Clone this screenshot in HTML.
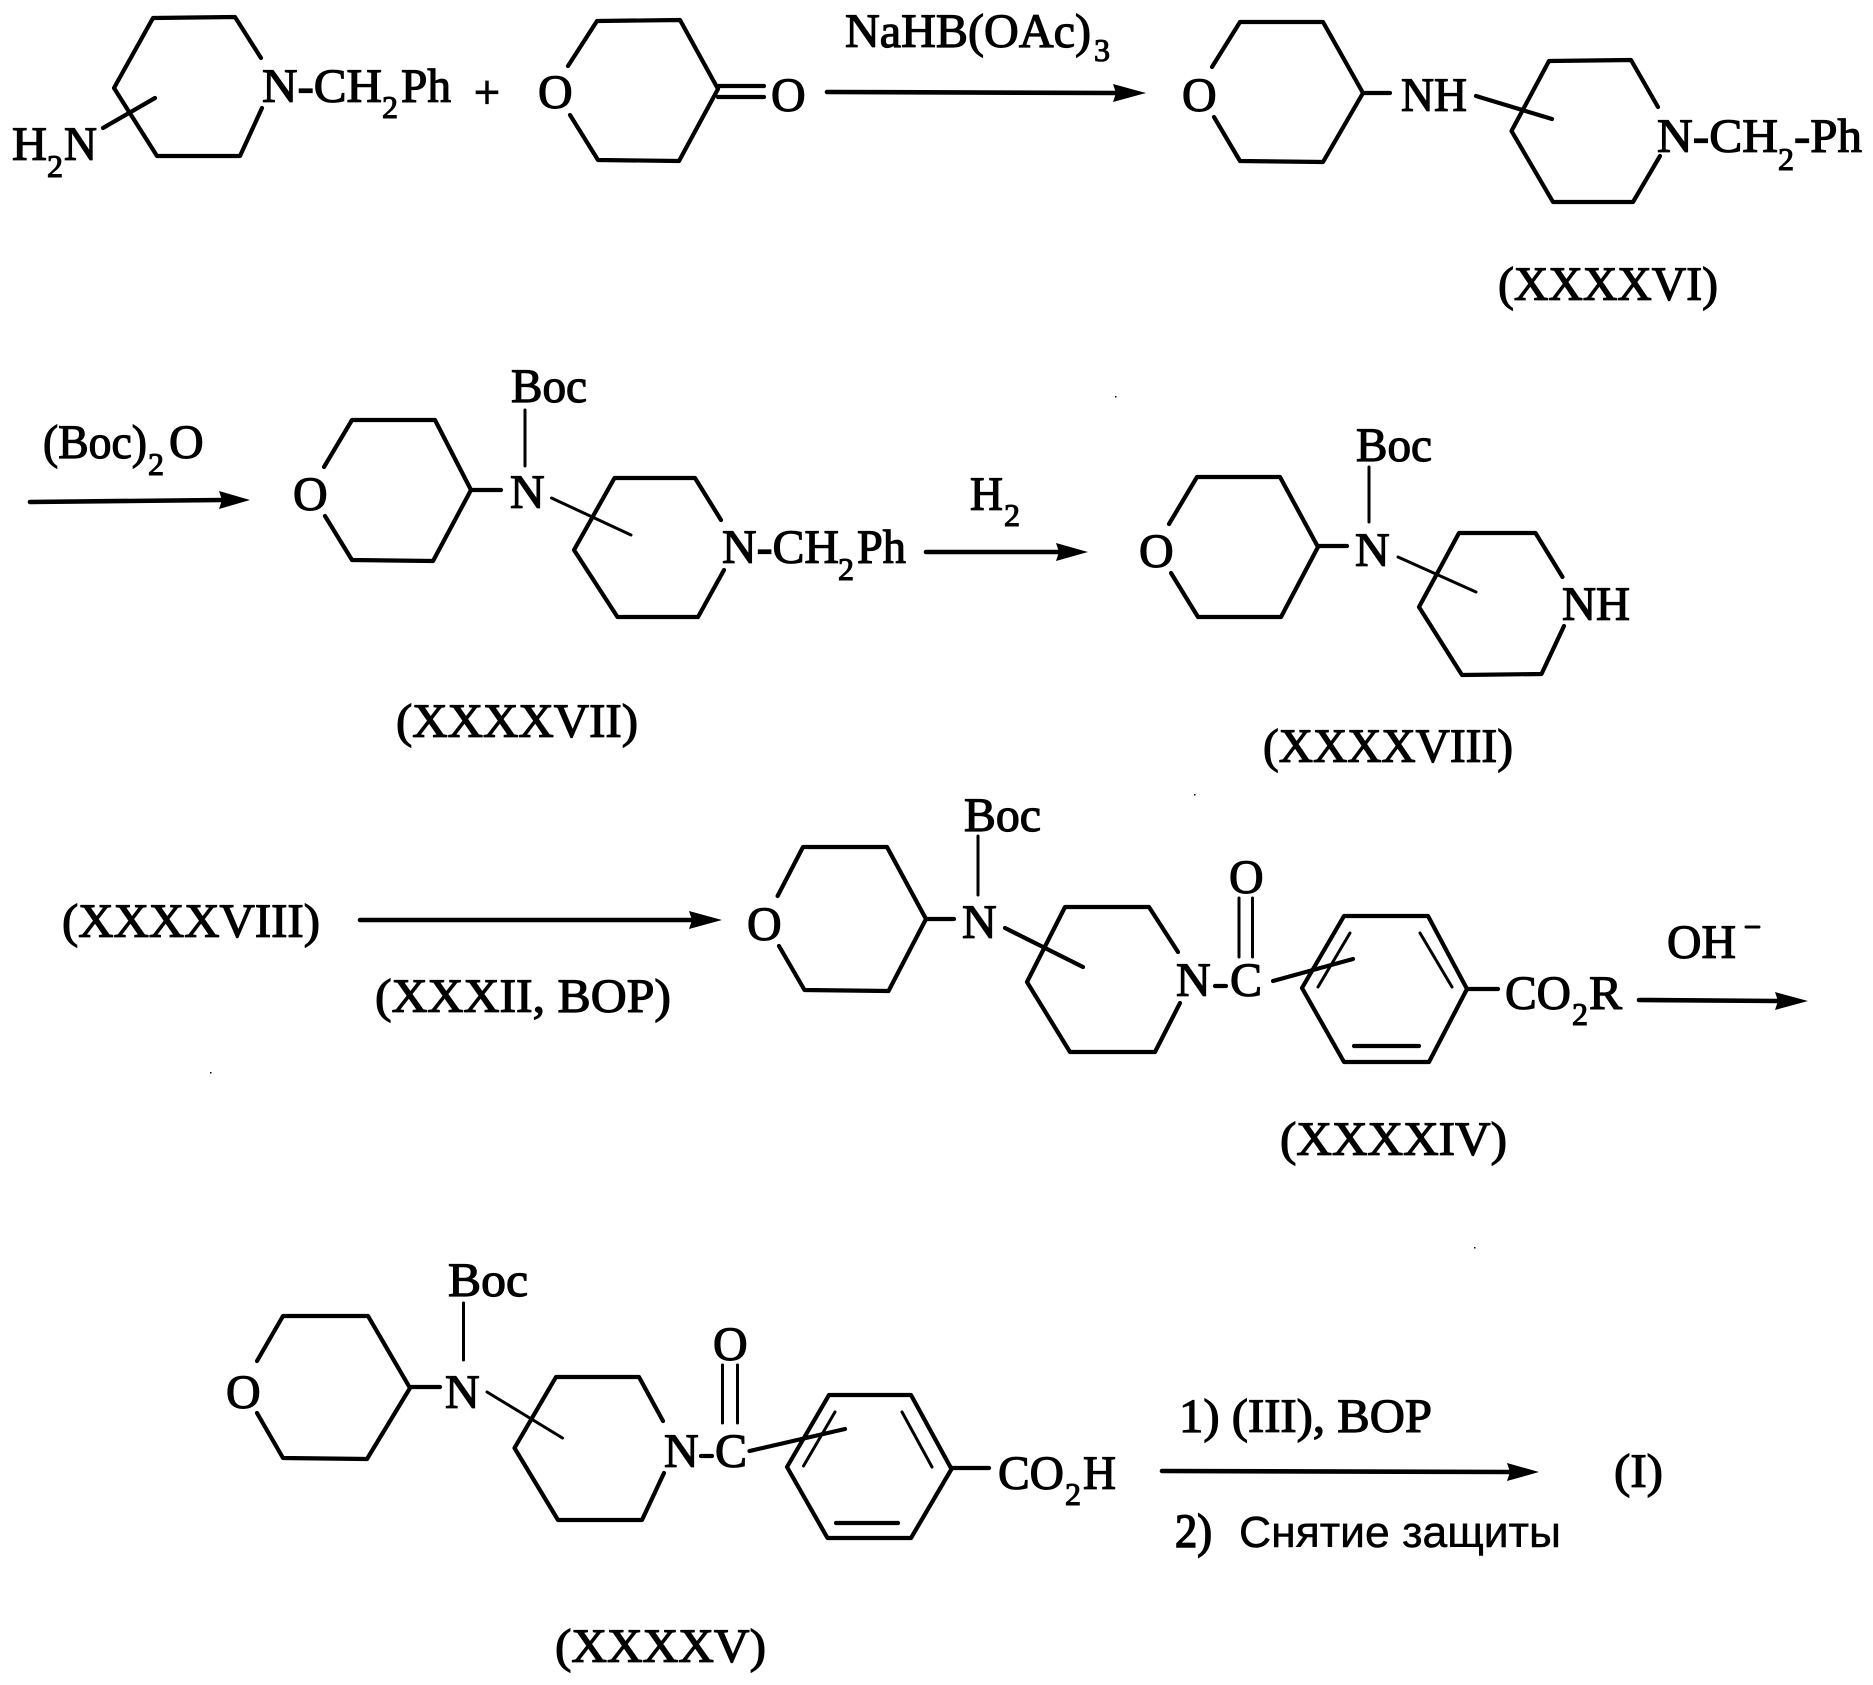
<!DOCTYPE html>
<html lang="ru"><head><meta charset="utf-8"><title>Reaction scheme</title>
<style>
html,body{margin:0;padding:0;background:#fff}
svg{display:block}
text{font-family:"Liberation Serif",serif;font-size:48px;fill:#000;stroke:#000;stroke-width:1.2px}
text.s{font-size:32px;stroke-width:1.1px}
text.r{font-family:"Liberation Sans",sans-serif;font-size:44px;stroke-width:.5px}
.b{fill:none;stroke:#000;stroke-width:4.2;stroke-linejoin:round;stroke-linecap:round}
.t{fill:none;stroke:#000;stroke-width:3;stroke-linecap:round}
.a{fill:none;stroke:#000;stroke-width:4.6;stroke-linecap:round}
</style></head><body>
<svg xmlns="http://www.w3.org/2000/svg" width="1873" height="1685" viewBox="0 0 1873 1685">
<rect width="1873" height="1685" fill="#fff"/>

<!-- Row 1 -->
<path class="b" d="M261,58L235,17L153,18L114,88L157,156L240,156L262,108"/>
<path class="b" d="M103,128L155,98"/>
<text x="12" y="160" textLength="35" lengthAdjust="spacingAndGlyphs">H</text>
<text class="s" x="47" y="177">2</text>
<text x="64" y="160" textLength="33" lengthAdjust="spacingAndGlyphs">N</text>
<text x="262" y="102" textLength="120" lengthAdjust="spacingAndGlyphs">N-CH</text>
<text class="s" x="382" y="118">2</text>
<text x="401" y="102" textLength="50" lengthAdjust="spacingAndGlyphs">Ph</text>
<text x="474" y="108" textLength="26" lengthAdjust="spacingAndGlyphs">+</text>
<path class="b" d="M568,66L597,21L680,20L718,89L679,161L598,160L570,115"/>
<text x="538" y="108">O</text>
<path class="b" d="M718,86H764M718,97H764"/>
<text x="771" y="111">O</text>
<path class="a" d="M827,92L1116,93"/><path d="M1113,84L1146,93L1113,102L1116,93Z"/>
<text x="845" y="47" textLength="246" lengthAdjust="spacingAndGlyphs">NaHB(OAc)</text>
<text class="s" x="1094" y="61">3</text>

<path class="b" d="M1212,67L1240,22L1323,22L1363,93L1323,162L1240,161L1214,117"/>
<text x="1182" y="111">O</text>
<path class="b" d="M1363,93H1390"/>
<text x="1401" y="111" textLength="66" lengthAdjust="spacingAndGlyphs">NH</text>
<path class="b" d="M1658,107L1631,60L1549,61L1511.500,131L1553,202L1633,202L1660,156"/>
<path class="b" d="M1476,96L1552,119"/>
<text x="1657" y="152" textLength="121" lengthAdjust="spacingAndGlyphs">N-CH</text>
<text class="s" x="1778" y="170">2</text>
<text x="1794" y="152" textLength="68" lengthAdjust="spacingAndGlyphs">-Ph</text>
<text x="1498" y="300" textLength="220" lengthAdjust="spacingAndGlyphs">(XXXXVI)</text>

<!-- Row 2 -->
<path class="a" d="M30,502L222,500"/><path d="M219,491L250,500L219,509L222,500Z"/>
<text x="43" y="458" textLength="104" lengthAdjust="spacingAndGlyphs">(Boc)</text>
<text class="s" x="148" y="475">2</text>
<text x="169" y="458">O</text>
<text x="511" y="402" textLength="76" lengthAdjust="spacingAndGlyphs">Boc</text>
<path class="t" d="M525,410V466"/>
<path class="b" d="M324,467L352,420L435,420L471,490L433,561L352,560L325,516"/>
<text x="293" y="510">O</text>
<path class="b" d="M471,490H501"/>
<text x="510" y="508">N</text>
<path class="b" d="M721,520L695,478L614.500,478L574,550L617.500,617L698,617L724,570"/>
<path class="t" d="M551.500,498L631,535"/>
<text x="722" y="563" textLength="117" lengthAdjust="spacingAndGlyphs">N-CH</text>
<text class="s" x="838" y="580">2</text>
<text x="857" y="563" textLength="49" lengthAdjust="spacingAndGlyphs">Ph</text>
<text x="396" y="737" textLength="242" lengthAdjust="spacingAndGlyphs">(XXXXVII)</text>

<path class="a" d="M926,552H1059"/><path d="M1056,543L1088,552L1056,561L1059,552Z"/>
<text x="970" y="510" textLength="33" lengthAdjust="spacingAndGlyphs">H</text>
<text class="s" x="1004" y="526">2</text>
<text x="1356" y="461" textLength="76" lengthAdjust="spacingAndGlyphs">Boc</text>
<path class="t" d="M1369,467V522"/>
<path class="b" d="M1169,524L1197,477L1280,477L1318,547L1281,617L1198,617L1171,573"/>
<text x="1139" y="567">O</text>
<path class="b" d="M1318,546H1347"/>
<text x="1355" y="566">N</text>
<path class="b" d="M1562.500,577L1535.500,533L1459,533L1419,607L1462,675L1541.500,674L1564,626"/>
<path class="t" d="M1398,557L1476,592"/>
<text x="1562" y="620" textLength="68" lengthAdjust="spacingAndGlyphs">NH</text>
<text x="1263" y="762" textLength="250" lengthAdjust="spacingAndGlyphs">(XXXXVIII)</text>

<!-- Row 3 -->
<text x="62" y="937" textLength="258" lengthAdjust="spacingAndGlyphs">(XXXXVIII)</text>
<path class="a" d="M360,920H692"/><path d="M689,911L722,920L689,929L692,920Z"/>
<text x="375" y="1012" textLength="296" lengthAdjust="spacingAndGlyphs">(XXXII, BOP)</text>
<path class="b" d="M777.600,896L803,847L887,847L926,919L888.500,991L804.500,990L779,946"/>
<text x="747" y="940">O</text>
<path class="b" d="M926,919H954"/>
<text x="964" y="831" textLength="77" lengthAdjust="spacingAndGlyphs">Boc</text>
<path class="t" d="M978,836V895"/>
<text x="962" y="938">N</text>
<path class="b" d="M1178,952L1149,907L1065,907L1027,982L1070,1052L1155,1052L1180,1003"/>
<path class="b" d="M1005,928L1083,967"/>
<text x="1176" y="996">N</text>
<path class="b" d="M1215,986H1226"/>
<text x="1230" y="996">C</text>
<text x="1229" y="893">O</text>
<path class="t" d="M1239,898V957M1252.500,898V957"/>
<path class="b" d="M1273,981L1353,959"/>
<path class="b" d="M1344,916L1428,916L1467,989L1429,1062L1344,1062L1302,988Z"/>
<path class="t" d="M1350,933L1318,987M1420,933L1452,987"/>
<path class="b" d="M1354,1046H1419"/>
<path class="b" d="M1467,989H1498"/>
<text x="1505" y="1009" textLength="66" lengthAdjust="spacingAndGlyphs">CO</text>
<text class="s" x="1572" y="1025">2</text>
<text x="1589" y="1009" textLength="33" lengthAdjust="spacingAndGlyphs">R</text>
<path class="a" d="M1639,1000L1778,1001"/><path d="M1775,992L1808,1001L1775,1010L1778,1001Z"/>
<text x="1667" y="958" textLength="69" lengthAdjust="spacingAndGlyphs">OH</text>
<path class="t" d="M1746,927H1759"/>
<text x="1280" y="1155" textLength="227" lengthAdjust="spacingAndGlyphs">(XXXXIV)</text>

<!-- Row 4 -->
<text x="448" y="1296" textLength="80" lengthAdjust="spacingAndGlyphs">Boc</text>
<path class="t" d="M463.500,1303V1360"/>
<path class="b" d="M257,1361L283,1316L368,1316L410,1388L367,1459L283,1458L257,1413"/>
<text x="226" y="1408">O</text>
<path class="b" d="M410,1387H440"/>
<text x="445" y="1408">N</text>
<path class="b" d="M663,1421L639,1377L556,1377L514.500,1448L558,1520L642,1520L664,1473"/>
<path class="t" d="M487,1392L562.500,1438"/>
<text x="664" y="1467">N</text>
<path class="b" d="M701,1456H712"/>
<text x="715" y="1467">C</text>
<text x="713" y="1360">O</text>
<path class="t" d="M722.500,1365V1423M737.500,1365V1423"/>
<path class="b" d="M749.500,1451L845,1429"/>
<path class="b" d="M829,1395L911,1395L951.500,1469L911,1538L827.500,1538L787,1467Z"/>
<path class="t" d="M835,1412L803.500,1466M902,1412L932,1467"/>
<path class="b" d="M836,1523H898"/>
<path class="b" d="M951.500,1468H989"/>
<text x="998" y="1489" textLength="66" lengthAdjust="spacingAndGlyphs">CO</text>
<text class="s" x="1065" y="1505">2</text>
<text x="1083" y="1489" textLength="33" lengthAdjust="spacingAndGlyphs">H</text>
<path class="a" d="M1162,1471L1510,1472"/><path d="M1507,1463L1539,1472L1507,1481L1510,1472Z"/>
<text x="1179" y="1432" textLength="253" lengthAdjust="spacingAndGlyphs">1) (III), BOP</text>
<text x="1175" y="1547" textLength="37" lengthAdjust="spacingAndGlyphs" style="stroke-width:1.6px">2)</text>
<text class="r" x="1239" y="1547" textLength="322" lengthAdjust="spacingAndGlyphs">Снятие защиты</text>
<text x="1614" y="1487" textLength="49" lengthAdjust="spacingAndGlyphs">(I)</text>
<text x="555" y="1662" textLength="211" lengthAdjust="spacingAndGlyphs">(XXXXV)</text>

<!-- scan specks -->
<rect x="1115" y="396" width="1.500" height="1.500"/>
<rect x="210" y="1072" width="1.500" height="1.500"/>
<rect x="1194" y="794" width="1.500" height="1.500"/>
<rect x="1474" y="1247" width="1.500" height="1.500"/>
</svg>
</body></html>
